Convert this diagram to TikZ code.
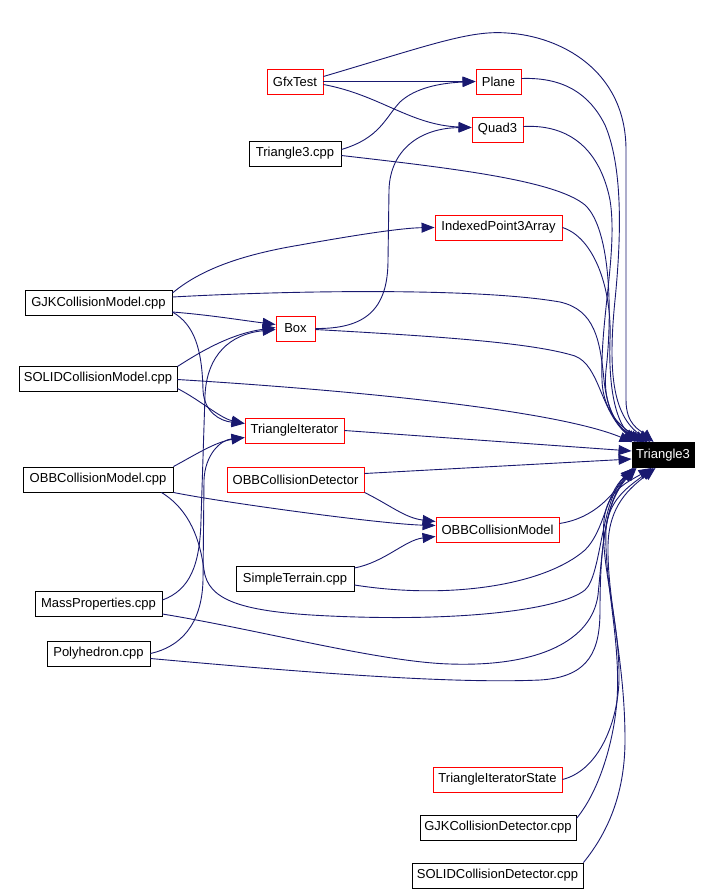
\documentclass[tikz,border=0pt]{standalone}
\usepackage{fontspec}
\setmainfont{Liberation Sans}
\usetikzlibrary{arrows.meta}
\definecolor{edgecol}{RGB}{25,25,112}
\begin{document}
\begin{tikzpicture}[x=1pt,y=-1pt,
  box/.style={font=\fontsize{13}{15}\selectfont, inner sep=0pt, minimum height=25pt, line width=0.9pt},
  cls/.style={box, draw=red, fill=white},
  srcf/.style={box, draw=black, fill=white},
  focus/.style={box, draw=black, fill=black, text=white},
  edge/.style={draw=edgecol, line width=0.9pt, -{Triangle[length=13pt,width=10pt]}}]
\useasboundingbox (0,0) rectangle (712,894);
\fill[white] (0,0) rectangle (712,894);
% nodes
\node[cls,  minimum width=56pt]  (gfx)    at (295,81.5)  {GfxTest};
\node[cls,  minimum width=45pt]  (plane)  at (498.5,81.5) {Plane};
\node[cls,  minimum width=51pt]  (quad)   at (497.5,129.5) {Quad3};
\node[srcf, minimum width=92pt]  (tcpp)   at (295,153.5) {Triangle3.cpp};
\node[cls,  minimum width=127pt] (ipa)    at (498.5,227.5) {IndexedPoint3Array};
\node[srcf, minimum width=147pt] (gjk)    at (98.5,303) {GJKCollisionModel.cpp};
\node[cls,  minimum width=39pt]  (boxn)   at (295.5,328.5) {Box};
\node[srcf, minimum width=158pt] (solid)  at (98,378.5) {SOLIDCollisionModel.cpp};
\node[cls,  minimum width=99pt]  (ti)     at (294.5,430.5) {TriangleIterator};
\node[focus,minimum width=62pt]  (tri)    at (663,455) {Triangle3};
\node[srcf, minimum width=150pt] (obbcpp) at (98,479.5) {OBBCollisionModel.cpp};
\node[cls,  minimum width=137pt] (obbcd)  at (295.5,479.5) {OBBCollisionDetector};
\node[cls,  minimum width=123pt] (obbcm)  at (497.5,529.5) {OBBCollisionModel};
\node[srcf, minimum width=118pt] (st)     at (295,579) {SimpleTerrain.cpp};
\node[srcf, minimum width=127pt] (mass)   at (98.5,604) {MassProperties.cpp};
\node[srcf, minimum width=103pt] (poly)   at (98.5,653.5) {Polyhedron.cpp};
\node[cls,  minimum width=129pt] (tis)    at (497.5,779.5) {TriangleIteratorState};
\node[srcf, minimum width=156pt] (gjkcd)  at (498,827.5) {GJKCollisionDetector.cpp};
\node[srcf, minimum width=171pt] (solidcd) at (497.5,875.5) {SOLIDCollisionDetector.cpp};
% edges into Triangle3 from above
\draw[edge] ([yshift=5pt]gfx.east) .. controls (430,45) and (470,30) .. (507,33) .. controls (560,36) and (626,70) .. (626,150) -- (626,400) .. controls (626,425) and (640,430) .. ([xshift=22pt]tri.north west);
\draw[edge] ([yshift=3pt]plane.east) .. controls (565,77) and (590,95) .. (605,125) .. controls (622,165) and (622,230) .. (615,300) .. controls (608,370) and (612,415) .. ([xshift=19pt]tri.north west);
\draw[edge] ([yshift=3pt]quad.east) .. controls (570,124) and (600,150) .. (610,200) .. controls (618,250) and (600,320) .. (602,380) .. controls (603,415) and (625,430) .. ([xshift=16pt]tri.north west);
\draw[edge] ([yshift=-2pt]tcpp.east) .. controls (450,168) and (555,180) .. (585,205) .. controls (612,230) and (612,320) .. (606,370) .. controls (602,410) and (620,430) .. ([xshift=13pt]tri.north west);
\draw[edge] (ipa.east) .. controls (595,238) and (612,290) .. (610,340) .. controls (608,400) and (620,428) .. ([xshift=10pt]tri.north west);
\draw[edge] ([yshift=6pt]gjk.east) .. controls (300,290) and (480,288) .. (560,302) .. controls (595,310) and (600,340) .. (604,380) .. controls (608,420) and (625,432) .. ([xshift=7pt]tri.north west);
\draw[edge] ([yshift=-1pt]boxn.east) .. controls (430,336) and (530,342) .. (575,356) .. controls (600,366) and (600,410) .. ([xshift=4pt]tri.north west);
\draw[edge] ([yshift=-1pt]solid.east) .. controls (380,392) and (560,412) .. ([xshift=1pt]tri.north west);
% edges into Triangle3 from the left
\draw[edge] (ti.east) -- ([yshift=4pt]tri.west);
\draw[edge] ([yshift=6pt]obbcd.east) -- ([yshift=-4pt]tri.west);
% edges into Triangle3 from below
\draw[edge] ([yshift=6pt]obbcm.east) .. controls (595,518) and (612,495) .. ([xshift=1pt]tri.south west);
\draw[edge] ([yshift=-6pt]st.east) .. controls (450,600) and (545,585) .. (585,550) .. controls (605,530) and (605,495) .. ([xshift=2pt]tri.south west);
\draw[edge] ([xshift=-12pt]obbcpp.south east) .. controls (190,510) and (200,540) .. (204,570) .. controls (208,600) and (240,612) .. (330,616) .. controls (460,622) and (560,610) .. (585,590) .. controls (602,575) and (600,500) .. ([xshift=3pt]tri.south west);
\draw[edge] ([yshift=-10pt]mass.east) .. controls (260,630) and (380,662) .. (450,664) .. controls (540,667) and (592,640) .. (598,595) .. controls (603,545) and (605,500) .. ([xshift=4pt]tri.south west);
\draw[edge] ([yshift=-5pt]poly.east) .. controls (300,672) and (450,684) .. (540,680) .. controls (590,677) and (600,650) .. (600,610) .. controls (600,545) and (606,500) .. ([xshift=5pt]tri.south west);
\draw[edge] (tis.east) .. controls (600,770) and (618,720) .. (619,680) .. controls (620,620) and (600,565) .. (604,520) .. controls (607,490) and (628,482) .. ([xshift=20pt]tri.south west);
\draw[edge] ([yshift=9pt]gjkcd.east) .. controls (600,790) and (614,740) .. (617,700) .. controls (621,640) and (604,580) .. (606,530) .. controls (608,500) and (628,487) .. ([xshift=22pt]tri.south west);
\draw[edge] (solidcd.north east) .. controls (610,830) and (625,790) .. (625,740) .. controls (625,660) and (607,600) .. (608,545) .. controls (609,505) and (630,488) .. ([xshift=24pt]tri.south west);
% other edges
\draw[edge] (gfx.east) -- (plane.west);
\draw[edge] ([yshift=-3pt]gfx.east) .. controls (380,95) and (410,125) .. ([yshift=2pt]quad.west);
\draw[edge] ([yshift=4pt]tcpp.east) .. controls (380,138) and (385,118) .. (400,102) .. controls (415,88) and (440,83) .. (plane.west);
\draw[edge] (boxn.east) .. controls (365,329) and (388,310) .. (388,260) -- (389,190) .. controls (390,150) and (420,128) .. ([yshift=2pt]quad.west);
\draw[edge] ([yshift=10pt]gjk.east) .. controls (200,270) and (240,255) .. (300,245) .. controls (350,236) and (400,228) .. (ipa.west);
\draw[edge] ([yshift=-9pt]gjk.east) .. controls (210,315) and (240,320) .. ([yshift=4pt]boxn.west);
\draw[edge] ([yshift=-9pt]gjk.east) .. controls (195,325) and (202,350) .. (203,390) .. controls (204,412) and (220,421) .. ([yshift=7pt]ti.west);
\draw[edge] ([yshift=12pt]solid.east) .. controls (200,352) and (230,334) .. ([yshift=1pt]boxn.west);
\draw[edge] ([yshift=-10pt]solid.east) .. controls (200,400) and (220,418) .. ([yshift=7pt]ti.west);
\draw[edge] (obbcpp.north east) .. controls (195,455) and (215,442) .. ([yshift=-7pt]ti.west);
\draw[edge] (obbcpp.south east) .. controls (220,502) and (380,524) .. ([yshift=4pt]obbcm.west);
\draw[edge] (obbcd.south east) .. controls (390,505) and (405,518) .. ([yshift=8pt]obbcm.west);
\draw[edge] ([yshift=11pt]st.east) .. controls (385,562) and (405,540) .. ([yshift=-7pt]obbcm.west);
\draw[edge] ([yshift=4pt]mass.east) .. controls (190,590) and (200,565) .. (201,520) -- (205,395) .. controls (207,355) and (230,334) .. ([yshift=-1pt]boxn.west);
\draw[edge] (poly.east) .. controls (180,647) and (202,625) .. (203,580) -- (204,480) .. controls (205,455) and (220,440) .. ([yshift=-7pt]ti.west);
\end{tikzpicture}
\end{document}
